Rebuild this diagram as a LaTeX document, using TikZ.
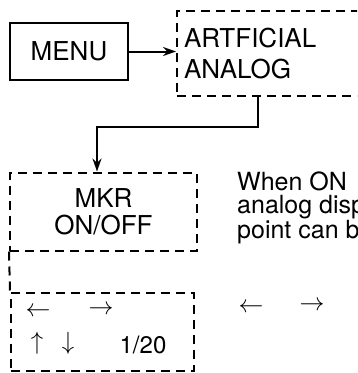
\documentclass[tikz,border=0pt]{standalone}
\usepackage{fontspec}
\setmainfont{TeX Gyre Heros}
\usetikzlibrary{arrows.meta}

\begin{document}
\begin{tikzpicture}[x=1pt,y=-1pt,
  every node/.style={font=\fontsize{26}{31}\selectfont},
  solidbox/.style={draw, line width=2pt},
  dashbox/.style={draw, line width=2pt, dash pattern=on 9pt off 6pt},
  link/.style={line width=2pt, -{Stealth[length=13pt,width=9pt]}},
  keysym/.style={font=\fontsize{33}{33}\selectfont, inner sep=0pt}]
\useasboundingbox (0,0) rectangle (357,373);
\clip (0,0) rectangle (357,373);

% Menu and mode boxes
\node[solidbox, minimum width=118pt, minimum height=57pt] (menu) at (69,51.5) {MENU};
\node[dashbox, anchor=north west, minimum height=85pt, text width=260pt, inner sep=7pt, align=left] (art) at (176,10) {ARTFICIAL\\ANALOG};
\node[dashbox, minimum width=187pt, minimum height=78pt, align=center, font=\fontsize{26}{27}\selectfont] (mkr) at (103.5,211.5) {MKR\\ON/OFF};
\node[dashbox, anchor=north west, minimum width=183pt, minimum height=78pt] (keys) at (10,292) {};
\draw[dashbox] (mkr.south west) -- (keys.north west);

% Connectors
\coordinate (turn) at (97,127);
\draw[link] (menu.east) -- (menu.east -| art.west);
\draw[link] ([xshift=82pt]art.south west) |- (turn) -- (turn |- mkr.north);

% Keys in the lower box
\node[keysym] (kleft) at (38,312) {$\leftarrow$};
\node[keysym] (kright) at (101,310) {$\rightarrow$};
\node[keysym] (kup) at (37,343) {$\uparrow$};
\node[keysym] (kdown) at (68,343) {$\downarrow$};
\node[font=\fontsize{24}{24}\selectfont] (ratio) at (143,345) {1/20};

% Note on the right
\node[anchor=north west, align=left, inner sep=0pt, font=\fontsize{25}{23}\selectfont] (note) at (237,172) {When ON\\analog disp\\point can b};
\node[keysym] (nleft) at (251,308) {$\leftarrow$};
\node[keysym] (nright) at (312,306) {$\rightarrow$};
\end{tikzpicture}
\end{document}
